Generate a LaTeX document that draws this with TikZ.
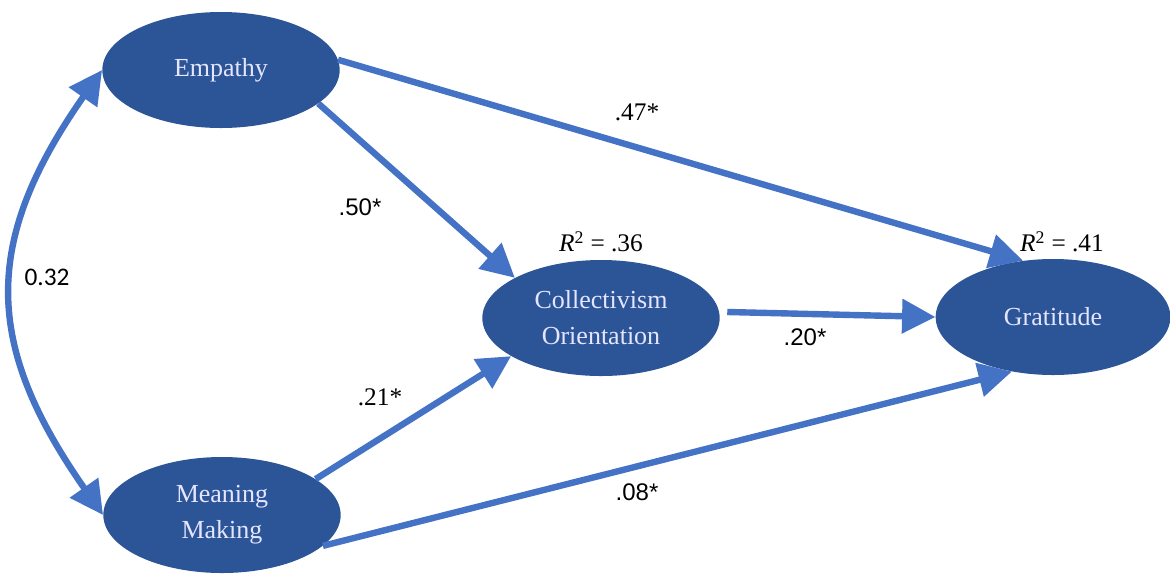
\documentclass[tikz,border=0pt]{standalone}
\usepackage{fontspec}
\setmainfont{Liberation Serif}
\newfontfamily\arialfont{Liberation Sans}
\newfontfamily\calibrifont{Carlito}
\usepackage{tikz}
\usetikzlibrary{arrows.meta, positioning, calc, shapes.geometric}
\definecolor{pathblue}{HTML}{4472C4}
\definecolor{varblue}{HTML}{2C5598}

\begin{document}
\begin{tikzpicture}[x=0.75pt, y=0.75pt,
  var/.style={ellipse, fill=varblue, text=white!90!blue, minimum width=178pt, minimum height=87pt,
    align=center, inner sep=0pt, font=\fontsize{19.5}{27}\selectfont},
  arr/.style={draw=pathblue, line width=4.8pt, -{Triangle[length=25pt, width=25pt]}},
  coef/.style={font=\fontsize{19}{22}\selectfont, inner sep=1pt},
  coefsf/.style={coef, font=\arialfont\fontsize{18}{22}\selectfont}]
\useasboundingbox (0,0) rectangle (1170,-576);
\node[var] (emp) at (221,-70) {Empathy};
\node[var] (mean) at (222,-515) {Meaning\\ Making};
\node[var] (coll) at (601,-318) {Collectivism\\ Orientation};
\node[var, minimum width=176pt] (grat) at (1053,-317) {Gratitude};

\draw[arr] (emp.5) -- (grat.118);
\draw[arr] (emp.-19) -- (coll.155);
\draw[arr, shorten <=6pt] (coll.3) -- (grat.west);
\draw[arr] (mean.21) -- (coll.203);
\draw[arr] (mean.-17) -- (grat.233);
\draw[arr, {Triangle[length=25pt, width=25pt]}-{Triangle[length=25pt, width=25pt]}]
  (emp.west) to[out=235, in=125, looseness=1.2] (mean.west);

\node[coef] (c47) at (637,-112) {.47*};
\node[coefsf] (c50) at (360,-207) {.50*};
\node[coef] (r36) at (601,-242) {\textit{R}\textsuperscript{2} = .36};
\node[coef] (r41) at (1062,-242) {\textit{R}\textsuperscript{2} = .41};
\node[coef, font=\calibrifont\fontsize{19}{22}\selectfont] (c32) at (47,-277) {0.32};
\node[coefsf] (c20) at (805,-337) {.20*};
\node[coef] (c21) at (380,-397) {.21*};
\node[coefsf] (c08) at (637,-492) {.08*};
\end{tikzpicture}
\end{document}
